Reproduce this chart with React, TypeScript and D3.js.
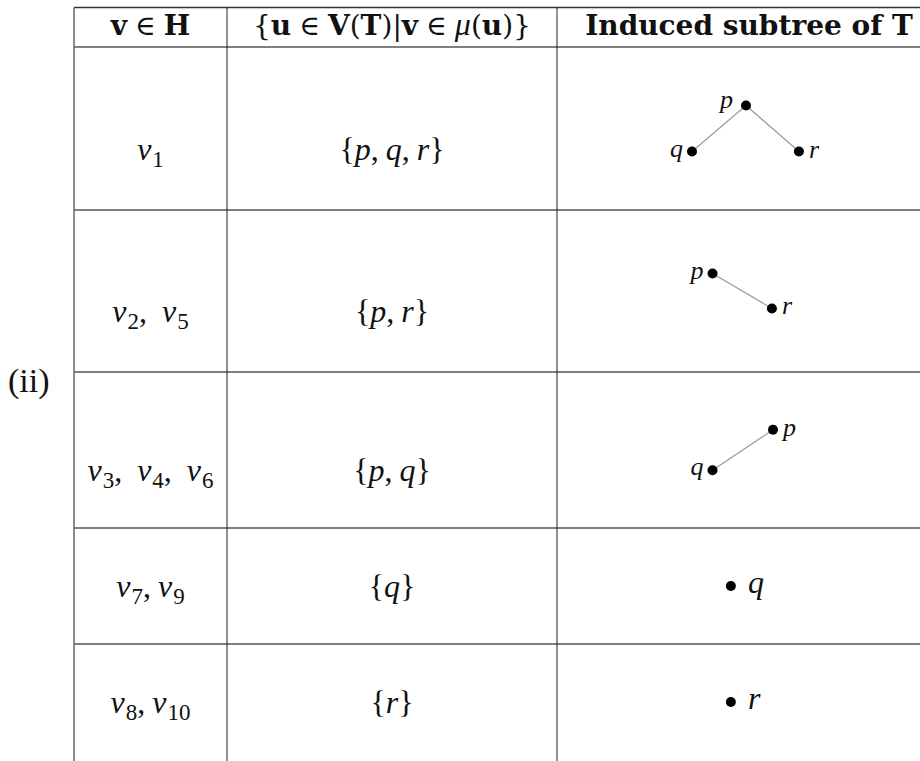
import * as d3 from "d3";
import React from "react";

const WIDTH = 920;
const HEIGHT = 761;

// table content
const caseLabel = "(ii)";
const headerCols = ["v ∈ H", "{u ∈ V(T)|v ∈ μ(u)}", "Induced subtree of T"];
const vertexLabels = ["v1", "v2, v5", "v3, v4, v6", "v7,v9", "v8,v10"];
const nodeSets = [["p", "q", "r"], ["p", "r"], ["p", "q"], ["q"], ["r"]];

// subtree drawings: gx across (-1..1), gy down in tree levels
const subtreeNodes = [
  [
    { id: "p", gx: 0, gy: 0, side: "ul" },
    { id: "q", gx: -1, gy: 1, side: "l" },
    { id: "r", gx: 0.98, gy: 1, side: "r" },
  ],
  [
    { id: "p", gx: -0.62, gy: 0, side: "l" },
    { id: "r", gx: 0.48, gy: 0.76, side: "r" },
  ],
  [
    { id: "q", gx: -0.62, gy: 0.88, side: "l" },
    { id: "p", gx: 0.5, gy: 0, side: "r" },
  ],
  [{ id: "q", gx: -0.28, gy: 0, side: "r" }],
  [{ id: "r", gx: -0.28, gy: 0, side: "r" }],
];
const subtreeEdges = [
  [["p", "q"], ["p", "r"]],
  [["p", "r"]],
  [["q", "p"]],
  [],
  [],
];

// layout
const tableTop = 7.5;
const headerBottom = 47;
const rowHeights = [163, 162, 156, 116, 116];
const colEdges = [74, 227, 557, 941];

const SERIF = "'Liberation Serif', 'Times New Roman', serif";
const BOLD = "'DejaVu Serif', serif";

const rowEdges = [headerBottom, ...Array.from(d3.cumsum(rowHeights), (s) => headerBottom + s)];
const colMid = (i: number) => (colEdges[i] + colEdges[i + 1]) / 2;

// tree scales
const tx = d3.scaleLinear().domain([-1, 1]).range([692, 800]);
const levelStep = 46;

// inline math: italic letters, upright subscripts and punctuation
function mathSpans(str: string, size: number) {
  const subSize = Math.round(size * 0.72);
  const subDrop = Math.round(size * 0.22);
  const spans: JSX.Element[] = [];
  let shift = 0;
  let pad = 0;
  const re = /([a-zA-Z])(\d+)?|,|\s|./gu;
  let m: RegExpExecArray | null;
  let k = 0;
  while ((m = re.exec(str))) {
    const tok = m[0];
    if (m[1]) {
      spans.push(
        <tspan key={k++} dx={pad || undefined} dy={-shift || undefined} fontStyle="italic">
          {m[1]}
        </tspan>
      );
      pad = 0;
      shift = 0;
      if (m[2]) {
        spans.push(
          <tspan key={k++} dx={1} dy={subDrop} fontSize={subSize}>
            {m[2]}
          </tspan>
        );
        shift = subDrop;
      }
    } else if (tok === ",") {
      spans.push(
        <tspan key={k++} dx={pad || undefined} dy={-shift || undefined}>
          ,
        </tspan>
      );
      shift = 0;
      pad = 7;
    } else if (/\s/.test(tok)) {
      pad += 8;
    } else {
      spans.push(
        <tspan key={k++} dx={pad || undefined} dy={-shift || undefined}>
          {tok}
        </tspan>
      );
      shift = 0;
      pad = 0;
    }
  }
  return spans;
}

// header math: bold upright letters, italic mu
function headerSpans(str: string) {
  const spans: JSX.Element[] = [];
  let pad = 0;
  let k = 0;
  for (const ch of Array.from(str)) {
    if (ch === " ") {
      pad += 8;
      continue;
    }
    const bold = /[A-Za-z]/.test(ch);
    spans.push(
      <tspan
        key={k++}
        dx={pad || undefined}
        fontWeight={bold ? 700 : 400}
        fontStyle={ch === "μ" ? "italic" : "normal"}
        fontFamily={ch === "μ" ? SERIF : BOLD}
        fontSize={ch === "μ" ? 32 : undefined}
      >
        {ch}
      </tspan>
    );
    pad = 0;
  }
  return spans;
}

function Subtree({ row }: { row: number }) {
  const nodes = subtreeNodes[row];
  const top = rowEdges[row];
  const mid = top + rowHeights[row] / 2;
  const maxGy = d3.max(nodes, (d) => d.gy) ?? 0;
  const ty = (gy: number) => mid + (gy - maxGy / 2) * levelStep;
  const byId = new Map(nodes.map((d) => [d.id, d]));
  const single = nodes.length === 1;
  const fs = single ? 32 : 26;

  return (
    <g>
      {subtreeEdges[row].map(([a, b], i) => {
        const na = byId.get(a)!;
        const nb = byId.get(b)!;
        return (
          <line
            key={i}
            x1={tx(na.gx)}
            y1={ty(na.gy)}
            x2={tx(nb.gx)}
            y2={ty(nb.gy)}
            stroke="#9a9a9a"
            strokeWidth={1.2}
          />
        );
      })}
      {nodes.map((d) => {
        const cx = tx(d.gx);
        const cy = ty(d.gy);
        let lx = cx + 10;
        let ly = cy + 6;
        let anchor = "start";
        if (d.side === "l") {
          lx = cx - 9;
          ly = cy + 5;
          anchor = "end";
        } else if (d.side === "ul") {
          lx = cx - 13;
          ly = cy + 2;
          anchor = "end";
        }
        if (single) {
          lx = cx + 17;
          ly = cy + 7;
        }
        return (
          <g key={d.id}>
            <circle cx={cx} cy={cy} r={5} fill="#000" />
            <text
              x={lx}
              y={ly}
              textAnchor={anchor}
              fontFamily={SERIF}
              fontStyle="italic"
              fontSize={fs}
              fill="#111"
            >
              {d.id}
            </text>
          </g>
        );
      })}
    </g>
  );
}

export default function App() {
  const left = colEdges[0];
  return (
    <svg
      width={WIDTH}
      height={HEIGHT}
      viewBox={`0 0 ${WIDTH} ${HEIGHT}`}
      style={{ position: "absolute", left: 0, top: 0, background: "#fff" }}
    >
      {/* case label */}
      <text x={8} y={392} fontFamily={SERIF} fontSize={34} fill="#111">
        {caseLabel}
      </text>

      {/* rules */}
      <line x1={left} x2={WIDTH} y1={tableTop} y2={tableTop} stroke="#333" strokeWidth={1.4} />
      {rowEdges.slice(0, -1).map((y, i) => (
        <line key={i} x1={left} x2={WIDTH} y1={y} y2={y} stroke="#555" strokeWidth={1.3} />
      ))}
      {colEdges.slice(0, -1).map((x, i) => (
        <line
          key={i}
          x1={x}
          x2={x}
          y1={tableTop}
          y2={HEIGHT}
          stroke={i === 0 ? "#666" : "#222"}
          strokeWidth={i === 0 ? 1.5 : 1}
        />
      ))}

      {/* header */}
      <text x={colMid(0)} y={35} textAnchor="middle" fontFamily={BOLD} fontSize={28} fill="#111">
        {headerSpans(headerCols[0])}
      </text>
      <text x={colMid(1)} y={35} textAnchor="middle" fontFamily={BOLD} fontSize={28} fill="#111">
        {headerSpans(headerCols[1])}
      </text>
      <text
        x={colMid(2)}
        y={35}
        textAnchor="middle"
        fontFamily={BOLD}
        fontWeight={700}
        fontSize={28}
        fill="#111"
      >
        {headerCols[2]}
      </text>

      {/* body rows */}
      {vertexLabels.map((label, i) => {
        const mid = rowEdges[i] + rowHeights[i] / 2;
        const base = mid + (subtreeNodes[i].length > 1 ? 31 : 11);
        return (
          <g key={i}>
            <text x={colMid(0)} y={base} textAnchor="middle" fontFamily={SERIF} fontSize={32} fill="#111">
              {mathSpans(label, 32)}
            </text>
            <text x={colMid(1)} y={base} textAnchor="middle" fontFamily={SERIF} fontSize={32} fill="#111">
              {mathSpans("{" + nodeSets[i].join(",") + "}", 32)}
            </text>
            <Subtree row={i} />
          </g>
        );
      })}
    </svg>
  );
}
